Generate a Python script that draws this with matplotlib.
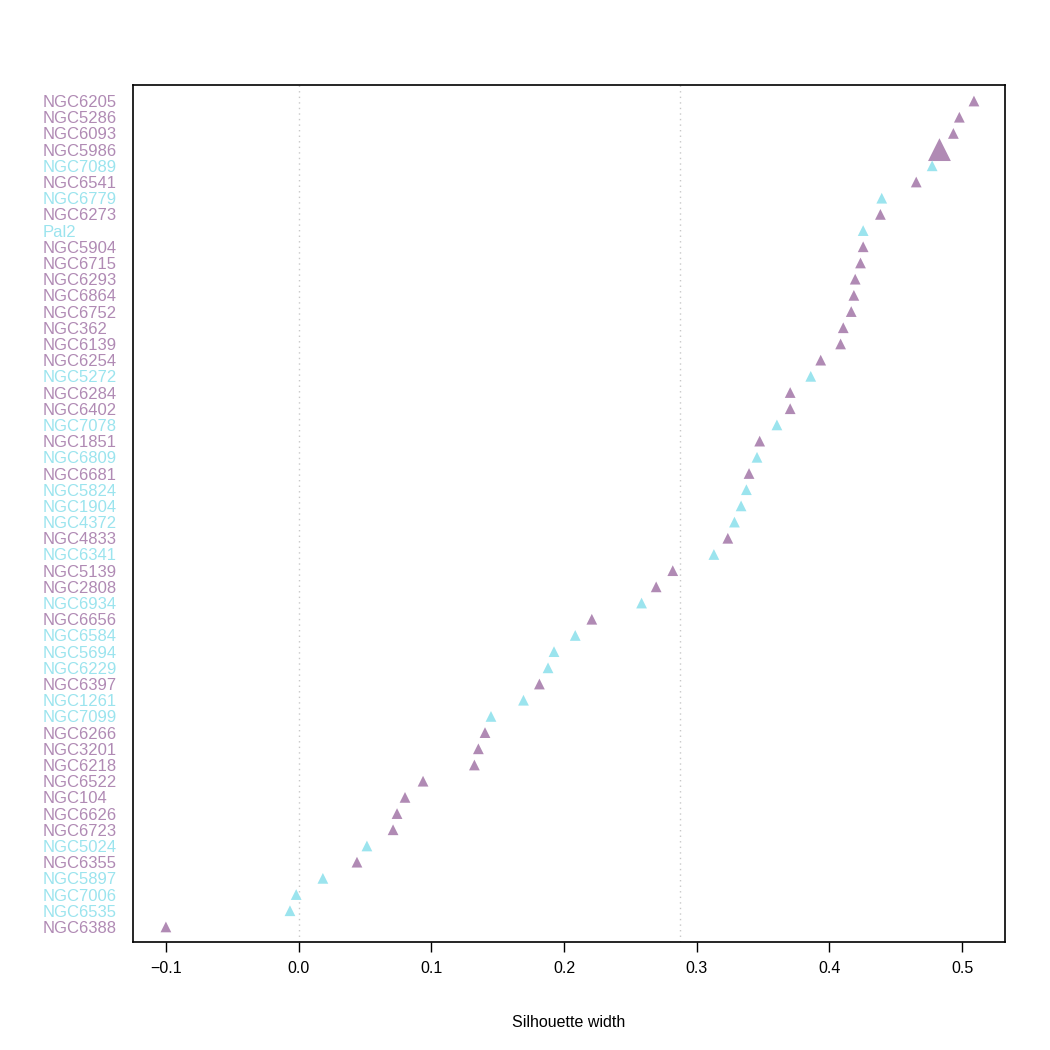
import matplotlib
matplotlib.use("Agg")
import matplotlib.pyplot as plt
import matplotlib.transforms as mtransforms

names = ["NGC6205","NGC5286","NGC6093","NGC5986","NGC7089","NGC6541","NGC6779","NGC6273",
         "Pal2","NGC5904","NGC6715","NGC6293","NGC6864","NGC6752","NGC362","NGC6139",
         "NGC6254","NGC5272","NGC6284","NGC6402","NGC7078","NGC1851","NGC6809","NGC6681",
         "NGC5824","NGC1904","NGC4372","NGC4833","NGC6341","NGC5139","NGC2808","NGC6934",
         "NGC6656","NGC6584","NGC5694","NGC6229","NGC6397","NGC1261","NGC7099","NGC6266",
         "NGC3201","NGC6218","NGC6522","NGC104","NGC6626","NGC6723","NGC5024","NGC6355",
         "NGC5897","NGC7006","NGC6535","NGC6388"]
widths = [0.509,0.498,0.4935,0.4830,0.4775,0.4655,0.4395,0.4385,
          0.4255,0.4255,0.4235,0.4195,0.4185,0.4165,0.4105,0.4085,
          0.3935,0.3860,0.3705,0.3705,0.3605,0.3475,0.3455,0.3395,
          0.3375,0.3335,0.3285,0.3235,0.3130,0.2820,0.2695,0.2585,
          0.2210,0.2085,0.1925,0.1880,0.1815,0.1695,0.1450,0.1405,
          0.1355,0.1325,0.0938,0.0802,0.0742,0.0712,0.0515,0.0440,
          0.0183,-0.0018,-0.0065,-0.100]
cluster = [1,1,1,1,2,1,2,1,
           2,1,1,1,1,1,1,1,
           1,2,1,1,2,1,2,1,
           2,2,2,1,2,1,1,2,
           1,2,2,2,1,2,2,1,
           1,1,1,1,1,1,2,1,
           2,2,2,1]
highlight = ["NGC5986"]
avg_width = 0.2877
xticks = [-0.1, 0.0, 0.1, 0.2, 0.3, 0.4, 0.5]
xticklabels = ["\u22120.1", "0.0", "0.1", "0.2", "0.3", "0.4", "0.5"]

colors = {1: "#B08AB4", 2: "#9BE4EE"}

plt.rcParams['font.family'] = ['Liberation Sans', 'DejaVu Sans']
fig = plt.figure(figsize=(10.5, 10.5), dpi=100)
ax = fig.add_axes([133/1050, 1-942/1050, (1005-133)/1050, (942-85)/1050])

n = len(names)
ys = [n - i for i in range(n)]
for v in [0.0, avg_width]:
    ax.axvline(v, color="#C8C8C8", linestyle=(0, (1, 3)), linewidth=1, zorder=1)

for name, w, c, y in zip(names, widths, cluster, ys):
    big = name in highlight
    ax.scatter([w], [y], marker="^", s=270 if big else 60, color=colors[c],
               edgecolors="none", zorder=3)

trans = mtransforms.blended_transform_factory(fig.transFigure, ax.transData)
trans = trans + mtransforms.ScaledTranslation(0, -1.5/100, fig.dpi_scale_trans)
for name, c, y in zip(names, cluster, ys):
    ax.text(43/1050, y, name, transform=trans, ha="left", va="center",
            fontsize=12, color=colors[c])

ax.set_xlim(-0.1248, 0.5324)
ax.set_ylim(0.07, 52.99)
ax.set_yticks([])
ax.set_xticks(xticks)
ax.set_xticklabels(xticklabels, fontsize=11.5)
ax.tick_params(axis='x', length=7, width=1, pad=7)
for s in ax.spines.values():
    s.set_linewidth(1.2)
ax.set_xlabel("Silhouette width", fontsize=11.5, labelpad=28)

fig.savefig("out.png", dpi=100)
